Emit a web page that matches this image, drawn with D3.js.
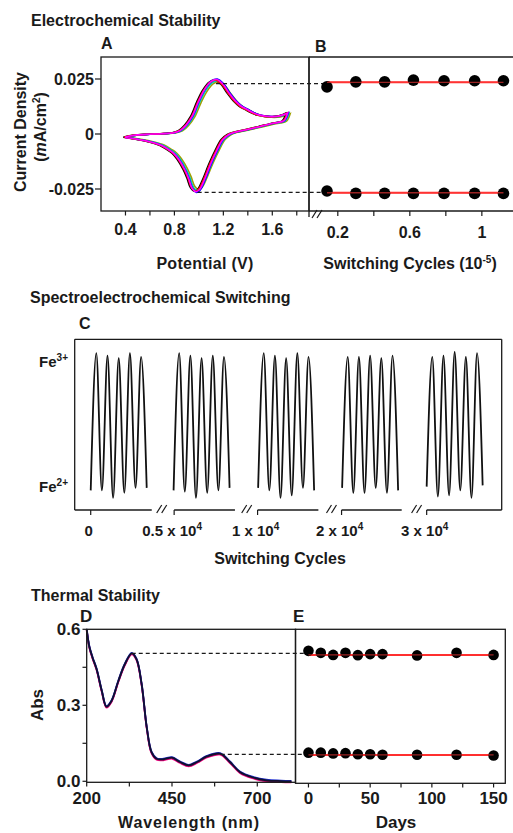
<!DOCTYPE html>
<html><head><meta charset="utf-8">
<script src="https://cdn.jsdelivr.net/npm/d3@7"></script>
<style>
html,body{margin:0;padding:0;background:#fff;}
svg text{font-family:"Liberation Sans",Arial,sans-serif;font-weight:bold;fill:#1a1a1a;}
</style></head>
<body>
<svg id="chart" width="513" height="833"></svg>
<script>
// ---------- DATA ----------
// Panel A: cyclic voltammogram (forward & reverse sweeps), base cycle
const cvForwardV = [0.40,0.45,0.50,0.60,0.70,0.80,0.85,0.90,0.95,1.00,1.05,1.10,1.15,1.20,1.25,1.30,1.35,1.40,1.45,1.50,1.55,1.60,1.65,1.70,1.73];
const cvForwardI = [-0.0015,-0.0008,-0.0004,-0.0001,0.0001,0.0006,0.0015,0.004,0.008,0.0145,0.020,0.0235,0.0245,0.0225,0.0185,0.015,0.0125,0.011,0.0095,0.0085,0.008,0.0078,0.008,0.0088,0.0095];
const cvReverseV = [1.73,1.70,1.65,1.60,1.50,1.40,1.30,1.25,1.20,1.15,1.10,1.05,1.01,0.98,0.95,0.92,0.89,0.84,0.80,0.76,0.70,0.60,0.50,0.45,0.40];
const cvReverseI = [0.0095,0.006,0.0052,0.0047,0.0033,0.002,0.0008,-0.0002,-0.0025,-0.0075,-0.0135,-0.0205,-0.025,-0.026,-0.0245,-0.020,-0.0162,-0.0115,-0.0088,-0.0072,-0.0052,-0.0035,-0.0024,-0.0019,-0.0015];
// cycles in drawing order
const cvCycleColors = ["#a0a000","#000000","#ff8000","#008000","#00c0c0","#0000ff","#ff0000","#ff00ff"];
const cvCycleShiftV = [0.016,-0.018,-0.006,0.002,0.006,0.000,-0.010,-0.004];
const cvCycleScale  = [0.97,1.00,0.99,1.00,0.99,1.02,1.00,1.01];
const cvDashOx = 0.0229, cvDashRed = -0.0265;
const cvPeakOxV = 1.14, cvPeakRedV = 0.99;

// Panel B: peak currents vs switching cycles (x 10^-5)
const bCycles = [0.14,0.30,0.46,0.62,0.79,0.96,1.12];
const bOxPeak = [0.0214,0.0237,0.0237,0.0245,0.0242,0.0242,0.0242];
const bRedPeak = [-0.0259,-0.0270,-0.0270,-0.0270,-0.0270,-0.0270,-0.0270];
const bOxFit = 0.0235, bRedFit = -0.0267;
const bTicks = [0.2,0.4,0.6,0.8,1.0];
const bTickLabels = {0.2:"0.2",0.6:"0.6",1.0:"1"};

// Panel C: spectroelectrochemical switching (0 = Fe2+, 1 = Fe3+)
const cCyclePos = [0,0.5,1,1.5,2,2.5,3,3.5,4,4.5,5];
const cGroupStart = [0,7.4,14.95,22.45,30.0];
const cGroups = [
  [-0.03,1.07,-0.03,1.05,-0.09,1.03,-0.05,1.07,-0.01,1.04,-0.01],
  [-0.03,1.07,-0.04,1.05,-0.09,1.03,-0.05,1.05,-0.03,1.04,-0.01],
  [-0.01,1.07,-0.03,1.05,-0.09,1.03,-0.07,1.07,-0.01,1.04,-0.03],
  [-0.01,1.04,-0.05,1.04,-0.05,1.05,-0.01,1.03,-0.05,1.05,-0.03],
  [0.00,1.04,-0.08,1.05,-0.07,1.08,-0.03,1.04,-0.09,1.07,0.01]
];
const cTickPos = [0,7.45,14.9,22.4,30.0];
const cTickLabels = [["0",""],["0.5 x 10","4"],["1 x 10","4"],["2 x 10","4"],["3 x 10","4"]];
const cAxisSegments = [[-1.43,5.45],[7.45,12.88],[14.9,20.33],[22.4,27.77],[30.0,36.7]];
const cBreaks = [6.34,13.93,21.5,29.1];

// Panel D: absorbance spectrum
const dWavelength = [200,208,217,229,244,258,273,293,312,332,346,361,376,390,405,425,450,474,499,523,552,591,620,649,688,727,770,800];
const dAbs = [0.60,0.53,0.489,0.443,0.358,0.295,0.318,0.397,0.463,0.505,0.482,0.384,0.213,0.115,0.089,0.087,0.093,0.076,0.063,0.076,0.098,0.109,0.076,0.037,0.015,0.004,0.001,0.0];
const dCurveColors = ["#ff1493","#c00060","#2030d0","#101030"];
const dCurveOffset = [-0.004,-0.002,0.002,0.0];
const dDashHigh = 0.505, dDashLow = 0.106;
const dPeakHighNm = 332, dPeakLowNm = 593;

// Panel E: absorbance vs days
const eDays = [0,10,20,30,40,50,60,88,120,150];
const eHigh = [0.515,0.507,0.499,0.507,0.498,0.502,0.502,0.497,0.507,0.499];
const eLow  = [0.113,0.113,0.110,0.111,0.107,0.107,0.105,0.105,0.105,0.102];
const eHighFit = 0.499, eLowFit = 0.104;

// ---------- DRAW ----------
const svg = d3.select("#chart");
const ink = "#1a1a1a";
function txt(x,y,s,size,anchor){
  return svg.append("text").attr("x",x).attr("y",y).attr("font-size",size).attr("text-anchor",anchor||"start").text(s);
}
function line(x1,y1,x2,y2,w,col,dash){
  const l = svg.append("line").attr("x1",x1).attr("y1",y1).attr("x2",x2).attr("y2",y2)
    .attr("stroke",col||ink).attr("stroke-width",w||1.3);
  if(dash) l.attr("stroke-dasharray",dash);
  return l;
}
function breakMark(cx,cy){
  [-2.5,2.5].forEach(d=>line(cx+d-2.5,cy+4,cx+d+2.5,cy-4,1.2));
}

// Titles
txt(31,26,"Electrochemical Stability",16);
txt(30,303,"Spectroelectrochemical Switching",16);
txt(31,601,"Thermal Stability",16);

// ===== Panel A =====
const xA = d3.scaleLinear().domain([0.2,1.9]).range([101,309]);
const yA = d3.scaleLinear().domain([-0.035,0.035]).range([211,57]);
txt(101,49,"A",16);
const cvLine = d3.line().curve(d3.curveCatmullRom.alpha(0.5));
cvCycleColors.forEach((c,k)=>{
  const V = cvForwardV.concat(cvReverseV), I = cvForwardI.concat(cvReverseI);
  const pts = V.map((v,i)=>[xA(v+cvCycleShiftV[k]), yA(I[i]*cvCycleScale[k])]);
  svg.append("path").attr("d",cvLine(pts)).attr("fill","none").attr("stroke",c).attr("stroke-width",1.6);
});
svg.append("rect").attr("x",101).attr("y",57).attr("width",208).attr("height",154).attr("fill","none").attr("stroke",ink).attr("stroke-width",1.3);
[0.4,0.6,0.8,1.0,1.2,1.4,1.6,1.8].forEach(v=>line(xA(v),211,xA(v),215.5,1.2));
[0.4,0.8,1.2,1.6].forEach(v=>txt(xA(v),234.5,d3.format(".1f")(v),16,"middle"));
[[0.025,"0.025"],[0,"0"],[-0.025,"-0.025"]].forEach(([v,s])=>{
  line(95,yA(v),101,yA(v),1.2);
  txt(94,yA(v)+5.5,s,16,"end");
});
txt(205,269,"Potential (V)",16,"middle").attr("letter-spacing",0.3);
svg.append("text").attr("transform","translate(20,132) rotate(-90)").attr("dy","0.35em")
  .attr("font-size",16).attr("text-anchor","middle").text("Current Density");
{
  const t = svg.append("text").attr("transform","translate(40,127) rotate(-90)").attr("dy","0.35em")
    .attr("font-size",16).attr("text-anchor","middle");
  t.append("tspan").text("(");
  t.append("tspan").attr("font-style","italic").text("m");
  t.append("tspan").text("A/cm");
  t.append("tspan").attr("font-size",10).attr("dy",-6).text("2");
  t.append("tspan").attr("dy",6).text(")");
}

// ===== Panel B =====
const xB = d3.scaleLinear().domain([0.04,1.173]).range([309,513]);
txt(315,52,"B",16);
line(309,57,513,57,1.3);
line(309,211,513,211,1.3);
line(309,57,309,217,1.3);
bTicks.forEach(v=>line(xB(v),211,xB(v),216,1.2));
bTicks.forEach(v=>{ if(bTickLabels[v]) txt(xB(v),238,bTickLabels[v],16,"middle"); });
breakMark(317,214);
{
  const t = txt(410,269,"",16,"middle");
  t.append("tspan").text("Switching Cycles (10");
  t.append("tspan").attr("font-size",10).attr("dy",-6).text("-5");
  t.append("tspan").attr("dy",6).text(")");
}
line(xA(cvPeakOxV),yA(cvDashOx),xB(bCycles[0]),yA(cvDashOx),1.3,ink,"4,3");
line(xA(cvPeakRedV),yA(cvDashRed),xB(bCycles[0]),yA(cvDashRed),1.3,ink,"4,3");
[bOxFit,bRedFit].forEach(v=>line(xB(bCycles[0]),yA(v),xB(bCycles[bCycles.length-1]),yA(v),2,"#ff2a2a"));
bCycles.forEach((c,i)=>{
  svg.append("circle").attr("cx",xB(c)).attr("cy",yA(bOxPeak[i])).attr("r",5.8).attr("fill","#000");
  svg.append("circle").attr("cx",xB(c)).attr("cy",yA(bRedPeak[i])).attr("r",5.8).attr("fill","#000");
});
[bOxFit,bRedFit].forEach(v=>line(xB(bCycles[0]),yA(v),xB(bCycles[bCycles.length-1]),yA(v),1.3,"#ff3a3a").attr("opacity",0.6));

// ===== Panel C =====
const xC = d3.scaleLinear().domain([-1.43,36.7]).range([74.7,501.7]);
const yC = d3.scaleLinear().domain([-0.187,1.18]).range([510,339.3]);
txt(79,329,"C",16);
line(74.7,339.3,501.7,339.3,1.3);
line(74.7,339.3,74.7,510,1.3);
line(501.7,339.3,501.7,510,1.3);
cAxisSegments.forEach(s=>line(xC(s[0]),510,xC(s[1]),510,1.3));
cTickPos.forEach(v=>line(xC(v),510,xC(v),515,1.2));
cBreaks.forEach(b=>breakMark(xC(b),509));
cTickPos.forEach((v,i)=>{
  const t = txt(xC(v)-2,535.5,"",15,"middle");
  t.append("tspan").text(cTickLabels[i][0]);
  if(cTickLabels[i][1]) t.append("tspan").attr("font-size",10).attr("dy",-6).text(cTickLabels[i][1]);
});
txt(280,564,"Switching Cycles",16,"middle");
[[1,"3+"],[0,"2+"]].forEach(([v,sup])=>{
  const t = txt(68,yC(v)+5,"",15,"end");
  t.append("tspan").text("Fe");
  t.append("tspan").attr("font-size",10).attr("dy",-6).text(sup);
});
const cLine = d3.line().curve(d3.curveMonotoneX);
cGroups.forEach((g,k)=>{
  const pts = g.map((v,i)=>[xC(cGroupStart[k]+cCyclePos[i]), yC(v)]);
  svg.append("path").attr("d",cLine(pts)).attr("fill","none").attr("stroke","#111").attr("stroke-width",1.8);
});

// ===== Panel D =====
const xD = d3.scaleLinear().domain([200,812]).range([86.7,295.5]);
const yD = d3.scaleLinear().domain([-0.004,0.6]).range([782.3,629.3]);
txt(80,622,"D",17);
const dLine = d3.line().curve(d3.curveCatmullRom.alpha(0.5));
dCurveColors.forEach((c,k)=>{
  const pts = dWavelength.map((w,i)=>[xD(w), yD(dAbs[i]+dCurveOffset[k])]);
  svg.append("path").attr("d",dLine(pts)).attr("fill","none").attr("stroke",c).attr("stroke-width",1.8);
});
svg.append("rect").attr("x",86.7).attr("y",629.3).attr("width",208.8).attr("height",153).attr("fill","none").attr("stroke",ink).attr("stroke-width",1.3);
[0,0.15,0.3,0.45,0.6].forEach(v=>line(82.5,yD(v),86.7,yD(v),1.2));
[[0,"0.0"],[0.3,"0.3"],[0.6,"0.6"]].forEach(([v,s])=>txt(80.5,yD(v)+6,s,17,"end"));
[200,325,450,575,700].forEach(v=>line(xD(v),782.3,xD(v),786.5,1.2));
[200,450,700].forEach(v=>txt(xD(v),804,String(v),17,"middle"));
txt(189,827.5,"Wavelength (nm)",16,"middle").attr("letter-spacing",0.9);
svg.append("text").attr("transform","translate(37,705) rotate(-90)").attr("dy","0.35em")
  .attr("font-size",17).attr("text-anchor","middle").text("Abs");

// ===== Panel E =====
const xE = d3.scaleLinear().domain([-10.5,159.5]).range([295.5,505.3]);
txt(293,622,"E",17);
svg.append("rect").attr("x",295.5).attr("y",629.3).attr("width",209.8).attr("height",154).attr("fill","none").attr("stroke",ink).attr("stroke-width",1.3);
[0,25,50,75,100,125,150].forEach(v=>line(xE(v),783.3,xE(v),787.5,1.2));
[0,50,100,150].forEach(v=>txt(xE(v),804,String(v),17,"middle"));
txt(396,828,"Days",17,"middle");
line(xD(dPeakHighNm),yD(dDashHigh),xE(eDays[0]),yD(dDashHigh),1.3,ink,"4,3");
line(xD(dPeakLowNm),yD(dDashLow),xE(eDays[0]),yD(dDashLow),1.3,ink,"4,3");
[eHighFit,eLowFit].forEach(v=>line(xE(eDays[0]),yD(v),xE(eDays[eDays.length-1]),yD(v),2,"#ff2a2a"));
eDays.forEach((d,i)=>{
  svg.append("circle").attr("cx",xE(d)).attr("cy",yD(eHigh[i])).attr("r",5.3).attr("fill","#000");
  svg.append("circle").attr("cx",xE(d)).attr("cy",yD(eLow[i])).attr("r",5.3).attr("fill","#000");
});
[eHighFit,eLowFit].forEach(v=>line(xE(eDays[0]),yD(v),xE(eDays[eDays.length-1]),yD(v),1.3,"#ff3a3a").attr("opacity",0.6));
</script>
</body></html>
